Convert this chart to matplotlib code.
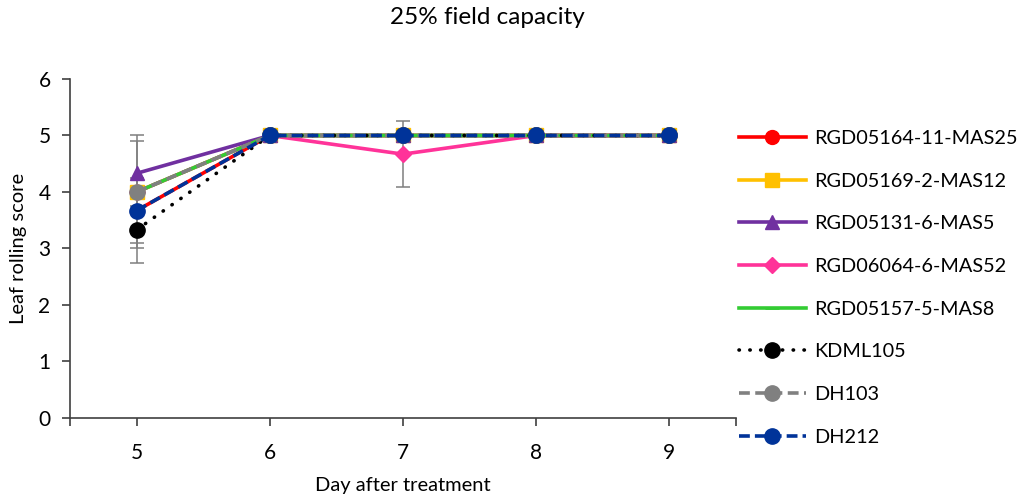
import matplotlib.pyplot as plt
import numpy as np

plt.rcParams['font.family'] = ['Lato', 'DejaVu Sans']

days = [5, 6, 7, 8, 9]
names = ["RGD05164-11-MAS25", "RGD05169-2-MAS12", "RGD05131-6-MAS5",
         "RGD06064-6-MAS52", "RGD05157-5-MAS8", "KDML105", "DH103", "DH212"]

mas25 = [3.67, 5, 5, 5, 5]
mas12 = [4.0, 5, 5, 5, 5]
mas5 = [4.33, 5, 5, 5, 5]
mas52 = [4.0, 5, 4.67, 5, 5]
mas8 = [4.0, 5, 5, 5, 5]
kdml105 = [3.33, 5, 5, 5, 5]
dh103 = [4.0, 5, 5, 5, 5]
dh212 = [3.67, 5, 5, 5, 5]

# standard errors (0 = no bar drawn)
err_mas25 = [0.58, 0, 0, 0, 0]
err_mas12 = [1.0, 0, 0, 0, 0]
err_mas5 = [0.58, 0, 0, 0, 0]
err_mas52 = [0, 0, 0.58, 0, 0]
err_kdml = [0.58, 0, 0, 0, 0]

series = [mas25, mas12, mas5, mas52, mas8, kdml105, dh103, dh212]
errors = [err_mas25, err_mas12, err_mas5, err_mas52, None, err_kdml, None, None]
colors = ["#ff0000", "#ffc000", "#7030a0", "#ff3399", "#33cc33", "#000000", "#808080", "#003399"]
markers = ["o", "s", "^", "D", "_", "o", "o", "o"]
msizes = [10, 10, 10, 8, 10, 11, 11, 11]
dotted = (0, (0.1, 2.9))
styles = ["-", "-", "-", "-", "-", dotted, (0, (3, 1.5)), (0, (3, 1.4))]

fig = plt.figure(figsize=(10.22, 4.95), dpi=100)
ax = fig.add_axes([0.0685, 0.1556, 0.6515, 0.6848])

for vals, err in zip(series, errors):
    if err is None:
        continue
    e = np.array(err)
    mask = e > 0
    ax.errorbar(np.array(days)[mask], np.array(vals)[mask], yerr=e[mask], fmt='none',
                ecolor='#7f7f7f', elinewidth=1.1, capsize=5, capthick=1.1, zorder=1)

handles = []
for vals, name, c, m, ms, ls in zip(series, names, colors, markers, msizes, styles):
    h, = ax.plot(days, vals, color=c, marker=m, markersize=ms, linestyle=ls,
                 linewidth=2.6, label=name,
                 dash_capstyle='round' if ls == dotted else 'butt',
                 markeredgewidth=2 if m == "_" else 1, zorder=2)
    handles.append(h)

ax.set_xlim(4.5, 9.5)
ax.set_ylim(0, 6)
ax.set_xticks([4.5, 5, 6, 7, 8, 9, 9.5])
ax.set_xticklabels(["", "5", "6", "7", "8", "9", ""])
ax.set_yticks(range(7))
ax.spines['top'].set_visible(False)
ax.spines['right'].set_visible(False)
for s in ['left', 'bottom']:
    ax.spines[s].set_color('#404040')
    ax.spines[s].set_linewidth(1.2)
ax.tick_params(axis='both', labelsize=15, color='#404040', length=6, width=1.2, pad=12)
ax.tick_params(axis='y', pad=8)

ax.set_xlabel("Day after treatment", fontsize=14.5, labelpad=10)
ax.set_ylabel("Leaf rolling score", fontsize=14.5, labelpad=8)
fig.suptitle("25% field capacity", fontsize=17.5, x=0.477, y=0.985)

fig.legend(handles=handles, loc='upper left', bbox_to_anchor=(0.715, 0.753),
           frameon=False, fontsize=14.3, handlelength=3.4, handletextpad=0.4,
           labelspacing=1.29, borderaxespad=0)

fig.savefig("out.png", dpi=100)
